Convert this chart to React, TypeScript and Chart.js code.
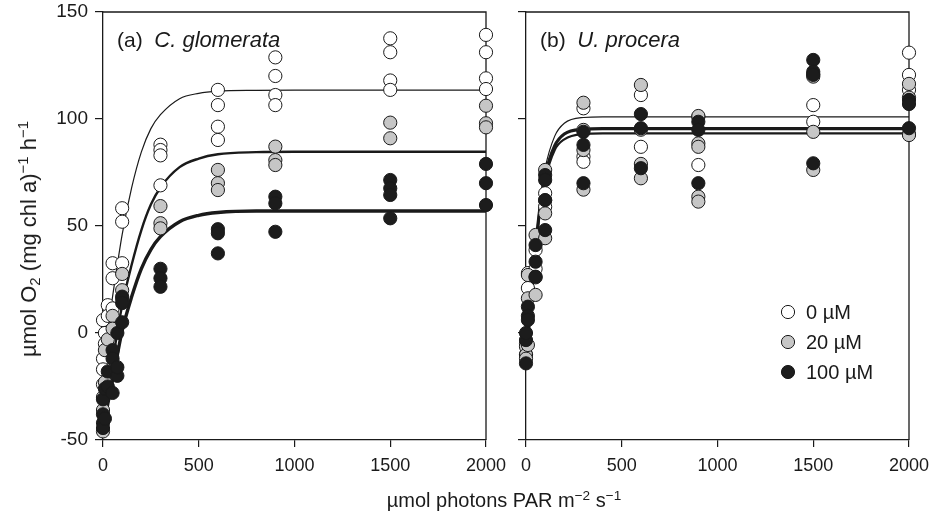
import React, { useEffect, useRef } from 'react';
import { Chart, registerables } from 'chart.js';

Chart.register(...registerables);

const FONT = '"Liberation Sans", Arial, Helvetica, sans-serif';
const INK = '#1a1a1a';

// ---------- axis ticks ----------
const X_TICKS = [0, 500, 1000, 1500, 2000];
const Y_TICKS = [-50, 0, 50, 100, 150];

// ---------- legend ----------
const LEGEND_LABELS = ['0 \u00b5M', '20 \u00b5M', '100 \u00b5M'];
const SERIES_FILL = ['#ffffff', '#c6c6c6', '#1c1c1c'];

// ---------- panel (a) C. glomerata : measurements ----------
const A0_X = [0, 0, 0, 0, 10, 10, 25, 25, 50, 50, 50, 100, 100, 100, 300, 300, 300, 300, 600, 600, 600, 600, 900, 900, 900, 900, 1500, 1500, 1500, 1500, 2000, 2000, 2000, 2000];
const A0_Y = [6, -12, -17, -24, 0, -5, 13, 8, 32.6, 25.6, 11.5, 58.3, 52, 32.6, 88, 85.5, 83, 69, 113.6, 106.5, 96.4, 90.2, 128.8, 120.1, 111.2, 106.5, 137.7, 131.2, 118, 113.6, 139.3, 131.2, 119, 114];

const A20_X = [0, 0, 0, 10, 10, 25, 50, 50, 100, 100, 100, 300, 300, 300, 600, 600, 600, 900, 900, 900, 1500, 1500, 2000, 2000, 2000];
const A20_Y = [-30, -36, -46, -8, -23, -3, 8, 2, 27.6, 20, 16, 59.3, 51.3, 48.9, 76.2, 70, 66.8, 87.1, 80.8, 78.5, 98.3, 91, 106.2, 98, 96.1];

const A100_X = [0, 0, 0, 0, 10, 10, 25, 25, 50, 50, 50, 75, 75, 75, 100, 100, 100, 300, 300, 300, 600, 600, 600, 900, 900, 900, 1500, 1500, 1500, 1500, 2000, 2000, 2000];
const A100_Y = [-31, -38, -42, -44.4, -40, -26, -25, -18, -8, -28, -12, 0, -20, -16, 17, 14, 5, 30, 25.6, 21.6, 48.5, 46.6, 37.2, 63.7, 60.6, 47.3, 71.5, 67.6, 64.5, 53.6, 79, 70, 59.8];

// ---------- panel (a) fitted curves ----------
const A_FIT_X = [0, 25, 50, 100, 150, 200, 250, 300, 400, 500, 600, 800, 1000, 1500, 2000];
const A0_FIT = [-15, 1.5, 17, 46, 68, 84.5, 95.5, 102, 109.5, 112, 113, 113.4, 113.5, 113.5, 113.5];
const A20_FIT = [-40, -26, -13, 13, 32, 48, 60, 68, 77.5, 81.5, 83.5, 84.5, 84.7, 84.7, 84.7];
const A100_FIT = [-45, -33, -22, 1, 17, 30, 39, 45, 52, 55, 56.3, 57, 57, 57, 57];

// ---------- panel (b) U. procera : measurements ----------
const B0_X = [0, 0, 10, 10, 50, 50, 100, 100, 100, 300, 300, 300, 600, 600, 900, 900, 1500, 1500, 2000, 2000, 2000, 2000];
const B0_Y = [-10, -5, 28, 21, 38.8, 30, 65.3, 62, 59, 105, 82.4, 80, 111.2, 87, 101, 78.5, 106.5, 98.7, 131, 120.6, 113.6, 93];

const B20_X = [0, 0, 0, 10, 10, 10, 50, 50, 50, 100, 100, 100, 300, 300, 300, 300, 600, 600, 600, 600, 900, 900, 900, 900, 900, 1500, 1500, 1500, 1500, 2000, 2000, 2000];
const B20_Y = [-6.4, -10.3, -12, 27.1, 16.2, -5.6, 45.8, 26, 17.8, 76.2, 55.9, 44.3, 107.6, 94.9, 85.5, 67, 115.9, 95, 79, 72.3, 101.4, 88.6, 87, 63.7, 61.4, 121, 119.8, 94, 76.2, 116.4, 110, 92.5];

const B100_X = [0, 0, 0, 10, 10, 10, 50, 50, 50, 100, 100, 100, 100, 300, 300, 300, 600, 600, 600, 900, 900, 900, 1500, 1500, 1500, 1500, 2000, 2000, 2000];
const B100_Y = [-14.2, -3.3, 0, 12.3, 8, 6.1, 41.1, 33.3, 26.3, 73.8, 71.5, 62.1, 48.1, 94, 87.9, 70, 102.3, 95.7, 77, 98.7, 94.9, 70, 127.6, 122.1, 120.6, 79.3, 108.9, 107, 95.7];

// ---------- panel (b) fitted curves ----------
const B_FIT_X = [0, 25, 50, 75, 100, 150, 200, 300, 400, 500, 700, 1000, 1500, 2000];
const B0_FIT = [-15, 15.5, 42, 62.5, 77, 92, 98, 100.7, 101, 101, 101, 101, 101, 101];
const B20_FIT = [-15, 14, 39, 58, 71.5, 85.5, 90.5, 93, 93.3, 93.3, 93.3, 93.3, 93.3, 93.3];
const B100_FIT = [-15, 14.5, 40, 60, 73.5, 87.5, 93, 95.2, 95.5, 95.5, 95.5, 95.5, 95.5, 95.5];

const pts = (xs: number[], ys: number[]) => xs.map((x, i) => ({ x, y: ys[i] }));

function pointSet(label: string, xs: number[], ys: number[], idx: number) {
  return {
    type: 'scatter' as const,
    label,
    data: pts(xs, ys),
    pointRadius: 6.6,
    pointHoverRadius: 6.6,
    pointBackgroundColor: SERIES_FILL[idx],
    pointBorderColor: INK,
    pointBorderWidth: 1,
    showLine: false,
    clip: false as any,
    order: 3 - idx,
  };
}

function curveSet(xs: number[], ys: number[], width: number) {
  return {
    type: 'line' as const,
    label: 'fit',
    data: pts(xs, ys),
    borderColor: INK,
    borderWidth: width,
    pointRadius: 0,
    fill: false,
    cubicInterpolationMode: 'monotone' as const,
    clip: false as any,
    order: 10,
  };
}

const framePlugin = {
  id: 'frame',
  beforeDatasetsDraw(chart: any) {
    const { ctx, chartArea: a } = chart;
    ctx.save();
    ctx.strokeStyle = INK;
    ctx.lineWidth = 1.3;
    ctx.beginPath();
    ctx.moveTo(a.left, a.top);
    ctx.lineTo(a.right, a.top);
    ctx.lineTo(a.right, a.bottom);
    ctx.stroke();
    ctx.restore();
  },
};

function titlePlugin(tag: string, species: string, dx: number) {
  return {
    id: 'paneltitle',
    afterDraw(chart: any) {
      const { ctx, chartArea: a } = chart;
      ctx.save();
      ctx.fillStyle = INK;
      ctx.textBaseline = 'alphabetic';
      ctx.textAlign = 'left';
      ctx.font = `21px ${FONT}`;
      const x0 = a.left + dx;
      const y0 = a.top + 35;
      ctx.fillText(tag, x0, y0);
      const w = ctx.measureText(tag + '  ').width;
      ctx.font = `italic 22px ${FONT}`;
      ctx.fillText(species, x0 + w, y0);
      ctx.restore();
    },
  };
}

const legendPlugin = {
  id: 'pilegend',
  afterDraw(chart: any) {
    const { ctx, chartArea: a } = chart;
    ctx.save();
    LEGEND_LABELS.forEach((lab, i) => {
      const cx = a.left + 262;
      const cy = a.top + 300 + i * 30;
      ctx.beginPath();
      ctx.arc(cx, cy, 6.6, 0, Math.PI * 2);
      ctx.fillStyle = SERIES_FILL[i];
      ctx.fill();
      ctx.lineWidth = 1;
      ctx.strokeStyle = INK;
      ctx.stroke();
      ctx.fillStyle = INK;
      ctx.font = `20px ${FONT}`;
      ctx.textBaseline = 'middle';
      ctx.textAlign = 'left';
      ctx.fillText(lab, cx + 18, cy + 1);
    });
    ctx.restore();
  },
};

function makeConfig(panel: 'a' | 'b') {
  const isA = panel === 'a';
  const datasets: any[] = isA
    ? [
        curveSet(A_FIT_X, A0_FIT, 1.2),
        curveSet(A_FIT_X, A20_FIT, 2.4),
        curveSet(A_FIT_X, A100_FIT, 3.4),
        pointSet(LEGEND_LABELS[0], A0_X, A0_Y, 0),
        pointSet(LEGEND_LABELS[1], A20_X, A20_Y, 1),
        pointSet(LEGEND_LABELS[2], A100_X, A100_Y, 2),
      ]
    : [
        curveSet(B_FIT_X, B0_FIT, 1.2),
        curveSet(B_FIT_X, B20_FIT, 2.2),
        curveSet(B_FIT_X, B100_FIT, 3.2),
        pointSet(LEGEND_LABELS[0], B0_X, B0_Y, 0),
        pointSet(LEGEND_LABELS[1], B20_X, B20_Y, 1),
        pointSet(LEGEND_LABELS[2], B100_X, B100_Y, 2),
      ];
  const plugins: any[] = [framePlugin, isA ? titlePlugin('(a)', 'C. glomerata', 14) : titlePlugin('(b)', 'U. procera', 14)];
  if (!isA) plugins.push(legendPlugin);
  return {
    type: 'scatter' as const,
    data: { datasets },
    plugins,
    options: {
      animation: false as const,
      responsive: false,
      devicePixelRatio: 1,
      events: [],
      layout: { padding: { left: 0, right: isA ? 29 : 30, top: 12, bottom: 0 } },
      plugins: { legend: { display: false }, tooltip: { enabled: false }, title: { display: false } },
      scales: {
        x: {
          type: 'linear' as const,
          min: 0,
          max: 2000,
          afterBuildTicks: (s: any) => {
            s.ticks = X_TICKS.map((v) => ({ value: v }));
          },
          afterFit: (s: any) => {
            s.height = 81;
            s.paddingLeft = 0;
            s.paddingRight = 0;
          },
          ticks: {
            color: INK,
            font: { family: FONT, size: 18 },
            padding: 8,
            maxRotation: 0,
            autoSkip: false,
            callback: (v: any) => String(v),
          },
          grid: { drawOnChartArea: false, drawTicks: true, tickLength: 7, color: INK, lineWidth: 1.2 },
          border: { display: true, color: INK, width: 1.3 },
        },
        y: {
          type: 'linear' as const,
          min: -50,
          max: 150,
          afterBuildTicks: (s: any) => {
            s.ticks = Y_TICKS.map((v) => ({ value: v }));
          },
          afterFit: (s: any) => {
            s.width = isA ? 103 : 106;
            s.paddingTop = 0;
            s.paddingBottom = 0;
          },
          ticks: {
            color: INK,
            font: { family: FONT, size: 19 },
            padding: 7,
            callback: (v: any) => (isA ? String(v) : ''),
          },
          grid: { drawOnChartArea: false, drawTicks: true, tickLength: 8, color: INK, lineWidth: 1.2 },
          border: { display: true, color: INK, width: 1.3 },
        },
      },
    },
  };
}

function Panel({ panel, left, width }: { panel: 'a' | 'b'; left: number; width: number }) {
  const ref = useRef<HTMLCanvasElement | null>(null);
  useEffect(() => {
    if (!ref.current) return;
    const chart = new Chart(ref.current, makeConfig(panel) as any);
    return () => chart.destroy();
  }, [panel]);
  return (
    <canvas
      ref={ref}
      width={width}
      height={521}
      style={{ position: 'absolute', left, top: 0, width, height: 521 }}
    />
  );
}

export default function App() {
  const supStyle: React.CSSProperties = { fontSize: '0.68em', verticalAlign: '0.55em', lineHeight: 0 };
  const subStyle: React.CSSProperties = { fontSize: '0.68em', verticalAlign: '-0.3em', lineHeight: 0 };
  return (
    <div
      style={{
        position: 'fixed',
        left: 0,
        top: 0,
        width: 939,
        height: 521,
        background: '#ffffff',
        fontFamily: FONT,
        color: INK,
        overflow: 'hidden',
      }}
    >
      <Panel panel="a" left={0} width={515} />
      <Panel panel="b" left={420} width={519} />
      <div
        style={{
          position: 'absolute',
          left: 29,
          top: 239,
          transform: 'translate(-50%, -50%) rotate(-90deg)',
          whiteSpace: 'nowrap',
          fontSize: 22,
          lineHeight: '24px',
        }}
      >
        {'\u00b5mol O'}
        <span style={subStyle}>2</span>
        {' (mg chl a)'}
        <span style={supStyle}>{'\u22121'}</span>
        {' h'}
        <span style={supStyle}>{'\u22121'}</span>
      </div>
      <div
        style={{
          position: 'absolute',
          left: 504,
          top: 500,
          transform: 'translate(-50%, -50%)',
          whiteSpace: 'nowrap',
          fontSize: 20,
          lineHeight: '24px',
        }}
      >
        {'\u00b5mol photons PAR m'}
        <span style={supStyle}>{'\u22122'}</span>
        {' s'}
        <span style={supStyle}>{'\u22121'}</span>
      </div>
    </div>
  );
}
